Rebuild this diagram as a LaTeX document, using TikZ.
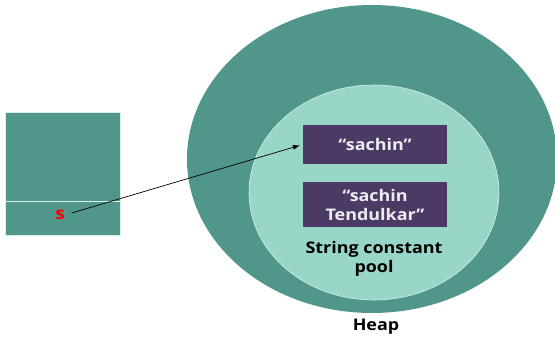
\documentclass[tikz,border=0pt]{standalone}
\usepackage{fontspec}
\setmainfont{Open Sans}
\newfontfamily\widefont[FakeStretch=1.12]{Open Sans}
\usetikzlibrary{arrows.meta}
\definecolor{heapteal}{RGB}{80,150,138}
\definecolor{poolmint}{RGB}{152,215,200}
\definecolor{strpurple}{RGB}{75,58,99}
\definecolor{edgelight}{RGB}{215,240,232}
\definecolor{strwhite}{RGB}{238,236,242}

\begin{document}
\begin{tikzpicture}[x=1pt, y=-1pt,
    frame/.style={fill=heapteal, draw=edgelight, line width=0.6pt},
    strbox/.style={fill=strpurple, text=strwhite, font=\widefont\fontsize{16}{19}\selectfont\bfseries, align=center, minimum width=144pt, inner sep=0pt},
    label/.style={font=\widefont\fontsize{16}{19}\selectfont\bfseries, align=center, inner sep=0pt}]
\useasboundingbox (0,0) rectangle (555,337);

% heap and pool
\fill [heapteal] (372,159) ellipse [x radius=185, y radius=154];
\draw [fill=poolmint, draw=edgelight, line width=0.6pt] (374,192.5) ellipse [x radius=125, y radius=107.5];

% stack
\draw [frame] (5,112) rectangle (120,201);
\draw [frame] (5,201) rectangle (120,235);
\node (s) [text=red, font=\widefont\fontsize{17}{17}\selectfont\bfseries, inner sep=0pt] at (60,215) {s};

% strings
\node (sachin) [strbox, minimum height=39pt] at (375,144.5) {“sachin”};
\node (tendulkar) [strbox, minimum height=45pt] at (375,204.5) {“sachin\\Tendulkar”};
\node (pool) [label] at (374,259) {String constant\\pool};
\node (heap) [label] at (376,327) {Heap};

\draw [-{Latex[length=7pt,width=5pt]}, line width=0.7pt, shorten <=7pt, shorten >=3pt] (s.east) -- (sachin.west);
\end{tikzpicture}
\end{document}
